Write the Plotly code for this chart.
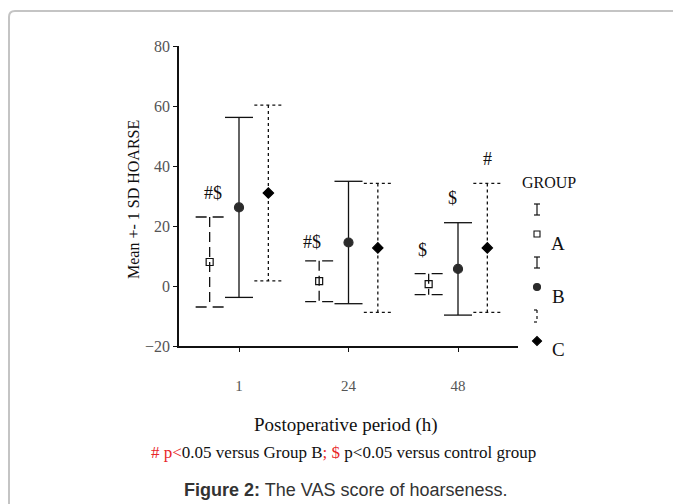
import plotly.graph_objects as go

# ---------------- data ----------------
periods = ["1", "24", "48"]          # postoperative period (h)
groups = ["A", "B", "C"]
mean_a = [8.0, 1.6, 0.6]
sd_a = [15.0, 6.8, 3.5]
mean_b = [26.2, 14.5, 5.7]
sd_b = [30.0, 20.4, 15.4]
mean_c = [31.0, 12.7, 12.7]
sd_c = [29.3, 21.5, 21.5]
y_ticks = [-20, 0, 20, 40, 60, 80]
sig_text = ["#$", "#$", "$", "$", "#"]
sig_group = ["A", "A", "A", "B", "C"]
sig_period = [0, 1, 2, 2, 2]
sig_value = [31.0, 14.7, 12.0, 29.3, 42.3]

# ---------------- layout geometry (pixels) ----------------
OFF = 8                      # page body margin
W, H = 681 - OFF, 504 - OFF
L, R, T, B = 179 - OFF, 81, 46 - OFF, 158
PW, PH = W - L - R, H - T - B


def px(x):
    return (x - OFF - L) / PW


def py(y):
    return (H - B - (y - OFF)) / PH


offsets = {"A": -0.268, "B": 0.0, "C": 0.268}
cap = 0.128
styles = {
    "A": dict(dash="10px,5px", capdash="11px,6px", symbol="square-open", size=7, color="#111"),
    "B": dict(dash="solid", capdash="solid", symbol="circle", size=9, color="#2b2b2b"),
    "C": dict(dash="3px,3px", capdash="3px,3px", symbol="diamond", size=8, color="#000"),
}
data = {"A": (mean_a, sd_a), "B": (mean_b, sd_b), "C": (mean_c, sd_c)}

fig = go.Figure()

for g in groups:
    means, sds = data[g]
    st = styles[g]
    vx, vy, cx, cy = [], [], [], []
    for i, (m, s) in enumerate(zip(means, sds)):
        xc = i + offsets[g]
        hi, lo = m + s, m - s
        vx += [xc, xc, None]
        vy += [hi, lo, None]
        cx += [xc - cap, xc + cap, None, xc - cap, xc + cap, None]
        cy += [hi, hi, None, lo, lo, None]
    fig.add_trace(go.Scatter(
        x=vx, y=vy, mode="lines", connectgaps=False, showlegend=False,
        line=dict(color="#111", width=1.3, dash=st["dash"]), hoverinfo="skip"))
    fig.add_trace(go.Scatter(
        x=cx, y=cy, mode="lines", connectgaps=False, showlegend=False,
        line=dict(color="#111", width=1.3, dash=st["capdash"]), hoverinfo="skip"))
    fig.add_trace(go.Scatter(
        x=[i + offsets[g] for i in range(len(periods))], y=means, mode="markers",
        showlegend=False, name=g,
        marker=dict(symbol=st["symbol"], size=st["size"], color=st["color"],
                    line=dict(color=st["color"], width=1.2))))

# significance marks
sig_shift = [3, -7, -6, -6, 0]
for t, g, p, v, sh in zip(sig_text, sig_group, sig_period, sig_value, sig_shift):
    fig.add_annotation(x=p + offsets[g], y=v, xref="x", yref="y", text=t,
                       showarrow=False, xshift=sh, xanchor="center", yanchor="middle",
                       font=dict(family="Liberation Serif", size=18, color="#111"))

# ---------------- custom legend (pixel axes x2/y2) ----------------
lx = 537
leg_bars = {"A": (204, 215), "B": (257, 268)}
for g, (y0, y1) in leg_bars.items():
    fig.add_trace(go.Scatter(
        x=[lx, lx, None, lx - 3, lx + 3, None, lx - 3, lx + 3],
        y=[y0, y1, None, y0, y0, None, y1, y1], mode="lines", xaxis="x2", yaxis="y2",
        showlegend=False, hoverinfo="skip", line=dict(color="#111", width=1.2)))
fig.add_trace(go.Scatter(
    x=[lx - 3, lx, None, lx, lx, None, lx - 3, lx],
    y=[310, 310, None, 310, 322, None, 322, 322], mode="lines", xaxis="x2", yaxis="y2",
    showlegend=False, hoverinfo="skip", line=dict(color="#111", width=1.2, dash="3px,3px")))
leg_pts = {"A": 234, "B": 287, "C": 341}
leg_size = {"A": 6, "B": 7, "C": 7}
for g, yy in leg_pts.items():
    st = styles[g]
    fig.add_trace(go.Scatter(
        x=[lx], y=[yy], mode="markers", xaxis="x2", yaxis="y2", showlegend=False,
        cliponaxis=False, hoverinfo="skip",
        marker=dict(symbol=st["symbol"], size=leg_size[g], color=st["color"],
                    line=dict(color=st["color"], width=1.1))))


def note(x, y, text, size, family="Liberation Serif", color="#111", angle=0):
    fig.add_annotation(x=px(x), y=py(y), xref="paper", yref="paper", text=text,
                       showarrow=False, xanchor="center", yanchor="middle",
                       textangle=angle, font=dict(family=family, size=size, color=color))


leg_txt = {"A": 243, "B": 296, "C": 349}
for g, yy in leg_txt.items():
    note(558, yy, g, 19)
note(549, 182, "GROUP", 16)

# ---------------- titles / notes ----------------
note(133, 200, "Mean +- 1 SD HOARSE", 16, angle=-90)
note(346, 425, "Postoperative period (h)", 19)
note(343, 452,
     '<span style="color:#e8262a"># p&lt;</span>0.05 versus Group B'
     '<span style="color:#e8262a">; $</span> p&lt;0.05 versus control group', 17)
note(345, 490, "<b>Figure 2:</b> The VAS score of hoarseness.", 18,
     family="Liberation Sans", color="#333")

# rounded frame
r0 = 6
fig.add_shape(type="path", xref="paper", yref="paper",
              path=(f"M {px(9)},{py(530)} L {px(9)},{py(11 + r0)} "
                    f"Q {px(9)},{py(11)} {px(9 + r0)},{py(11)} L {px(700)},{py(11)}"),
              line=dict(color="#c4c4c4", width=2))

fig.update_layout(
    width=W, height=H, margin=dict(l=L, r=R, t=T, b=B),
    paper_bgcolor="white", plot_bgcolor="rgba(0,0,0,0)",
    xaxis=dict(domain=[0, (518 - 179) / PW], range=[-0.548, 2.548],
               tickvals=list(range(len(periods))), ticktext=periods,
               showline=True, linecolor="#111", linewidth=1.5, ticks="outside",
               ticklen=4, tickcolor="#111", showgrid=False, zeroline=False,
               ticklabelstandoff=21,
               tickfont=dict(family="Liberation Serif", size=15, color="#555")),
    yaxis=dict(range=[-20, 80], tickvals=y_ticks, showline=True, linecolor="#111",
               linewidth=1.5, ticks="outside", ticklen=4, tickcolor="#111",
               showgrid=False, zeroline=False,
               tickfont=dict(family="Liberation Serif", size=16, color="#555")),
    xaxis2=dict(domain=[0, 1], range=[179, 600], anchor="y2", visible=False),
    yaxis2=dict(domain=[0, 1], range=[346, 46], anchor="x2", visible=False),
    showlegend=False,
)

fig.write_html("out.html")
